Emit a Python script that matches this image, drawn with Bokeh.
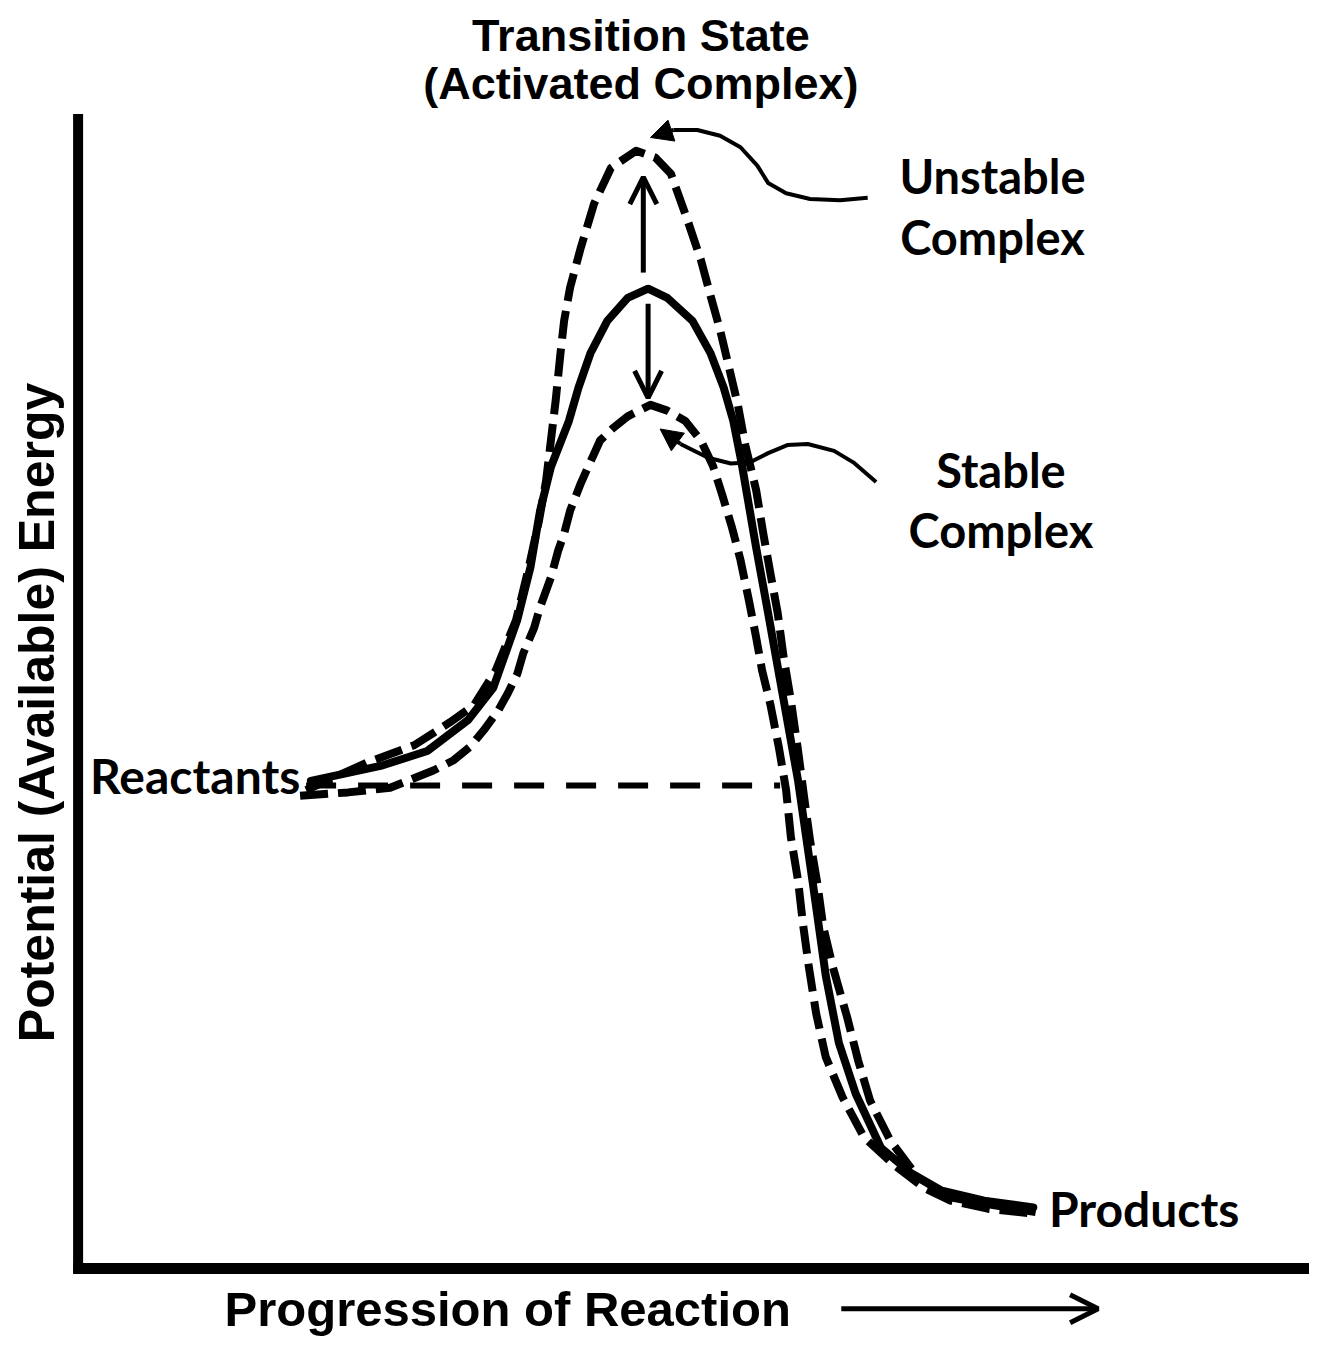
import math
from bokeh.plotting import figure
from bokeh.models import Range1d, Arrow, OpenHead, NormalHead
from bokeh.core.properties import value
from bokeh.embed import file_html
from bokeh.resources import INLINE

# ---------------- data (reaction progress 0..100, potential energy 0..100) ----------------
solid_x = [19.2, 25.0, 28.9, 32.3, 34.4, 36.4, 37.5, 38.3, 39.2, 40.7, 41.5, 42.5, 43.9, 45.6, 47.3,
           48.9, 51.0, 52.5, 53.6, 54.4, 55.1, 56.3, 57.3, 58.6, 59.8, 61.0, 62.1, 63.2, 64.6, 66.7,
           69.2, 71.7, 75.3, 79.4]
solid_y = [42.4, 43.7, 45.0, 47.7, 50.5, 56.4, 61.0, 65.9, 69.7, 73.7, 76.6, 79.6, 82.4, 84.4, 85.2,
           84.4, 82.4, 79.6, 76.6, 73.7, 70.0, 62.7, 57.0, 49.4, 42.4, 33.7, 25.5, 19.6, 15.2, 10.5,
           8.3, 6.8, 5.9, 5.3]

unstable_x = [18.8, 23.9, 27.8, 30.8, 32.8, 34.6, 36.3, 37.3, 38.2, 38.8, 39.2, 39.6, 40.0, 40.3,
              40.8, 41.7, 42.8, 44.2, 46.3, 47.9, 49.2, 50.6, 51.7, 52.5, 53.3, 54.1, 54.8, 55.4,
              56.3, 56.9, 57.5, 58.1, 58.6, 59.2, 59.8, 60.3, 60.8, 61.4, 61.9, 62.7, 63.9, 64.8,
              65.8, 67.5, 69.8, 72.5, 75.0, 79.6]
unstable_y = [41.6, 44.0, 45.5, 47.5, 49.0, 52.0, 56.4, 60.7, 65.0, 68.5, 72.0, 75.5, 79.6, 82.4,
              85.3, 88.8, 92.6, 95.7, 97.2, 96.6, 95.2, 91.1, 87.7, 84.6, 81.6, 78.1, 75.0, 71.6,
              67.7, 63.9, 60.4, 57.0, 53.1, 49.4, 45.0, 41.0, 37.2, 33.5, 29.7, 26.2, 21.8, 18.1,
              14.6, 11.1, 7.9, 6.2, 5.7, 4.9]

stable_x = [18.3, 22.3, 25.8, 29.4, 31.1, 32.5, 33.6, 34.8, 35.6, 36.4, 36.9, 37.8, 38.3, 39.2,
            39.8, 40.3, 40.8, 41.7, 42.3, 43.3, 44.4, 45.6, 47.5, 48.9, 50.4, 51.7, 52.7, 53.5,
            54.3, 55.0, 55.7, 56.3, 56.8, 57.5, 58.2, 58.8, 59.2, 59.8, 60.2, 60.7, 61.3, 62.1,
            63.5, 65.3, 67.8, 70.3, 72.5, 75.6, 79.2]
stable_y = [41.1, 41.4, 41.8, 43.3, 44.2, 45.4, 46.8, 48.5, 50.0, 51.7, 53.5, 55.7, 57.5, 60.1,
            62.4, 63.9, 65.9, 68.3, 69.7, 72.0, 73.1, 74.1, 75.1, 74.6, 73.7, 72.0, 69.8, 67.2,
            64.4, 61.6, 58.1, 54.9, 52.0, 49.0, 45.3, 41.6, 37.5, 33.7, 30.0, 26.2, 22.2, 18.4,
            14.9, 11.4, 9.0, 7.0, 5.9, 5.2, 4.8]

reactant_level_x = [18.8, 58.3]
reactant_level_y = [42.0, 42.0]

# double arrow at the peak (up: to unstable complex, down: to stable complex)
up_arrow = dict(x0=46.9, y0=86.6, x1=46.9, y1=94.9)
down_arrow = dict(x0=47.3, y0=83.9, x1=47.3, y1=75.7)

# curved pointers from labels
unstable_ptr_x = [65.6, 63.3, 60.8, 58.8, 57.3, 56.4, 55.0, 53.3, 51.4, 49.4]
unstable_ptr_y = [93.1, 92.9, 93.0, 93.5, 94.4, 95.9, 97.5, 98.5, 99.0, 99.0]
unstable_ptr_tip = (47.5, 98.35)
stable_ptr_x = [66.3, 64.4, 62.8, 60.6, 58.9, 57.3, 55.8, 54.2, 52.3, 50.0]
stable_ptr_y = [68.4, 70.1, 71.1, 71.7, 71.6, 70.9, 70.1, 70.0, 70.5, 71.7]
stable_ptr_tip = (48.3, 73.0)

# axes frame
yaxis_x = [-0.2, -0.2]
yaxis_y = [100.4, -0.45]
xaxis_x = [-0.6, 102.9]
xaxis_y = [0.0, 0.0]
progress_arrow = dict(x0=63.4, y0=-3.5, x1=84.8, y1=-3.5)

# labels
title_lines = ["Transition State", "(Activated Complex)"]
title_x = [46.7, 46.7]
title_y = [107.2, 103.0]
side_labels = ["Unstable", "Complex", "Stable", "Complex"]
side_x = [76.0, 76.0, 76.7, 76.7]
side_y = [95.0, 89.7, 69.4, 64.2]
xlabel = "Progression of Reaction"
xlabel_pos = (35.6, -3.5)
ylabel = "Potential (Available) Energy"
ylabel_pos = (-3.6, 48.35)
reactants_pos = (0.8, 42.9)
products_pos = (80.7, 5.2)

# ---------------- figure ----------------
W, H = 1309, 1336
p = figure(width=W, height=H, x_range=Range1d(-6.667, 102.417), y_range=Range1d(-5.913, 110.26),
           output_backend="svg", toolbar_location=None, min_border=0,
           x_axis_location=None, y_axis_location=None)
p.grid.visible = False
p.outline_line_color = None
p.background_fill_color = "white"
p.border_fill_color = "white"

BLACK = "black"

# axes
p.line(yaxis_x, yaxis_y, line_width=10, line_color=BLACK, line_cap="butt")
p.line(xaxis_x, xaxis_y, line_width=11, line_color=BLACK, line_cap="butt")

# curves
p.line(reactant_level_x, reactant_level_y, line_width=6, line_color=BLACK, line_dash="30 22")
p.line(unstable_x, unstable_y, line_width=8, line_color=BLACK, line_dash="28 10", line_join="round")
p.line(stable_x, stable_y, line_width=8, line_color=BLACK, line_dash="28 10", line_join="round")
p.line(solid_x, solid_y, line_width=8, line_color=BLACK, line_join="round", line_cap="round")

# peak arrows
for a in (up_arrow, down_arrow):
    p.add_layout(Arrow(x_start=a["x0"], y_start=a["y0"], x_end=a["x1"], y_end=a["y1"],
                       line_width=5, line_color=BLACK,
                       end=OpenHead(size=27, line_width=5, line_color=BLACK)))

# pointers
p.line(unstable_ptr_x, unstable_ptr_y, line_width=4, line_color=BLACK, line_join="round")
p.add_layout(Arrow(x_start=unstable_ptr_x[-1], y_start=unstable_ptr_y[-1],
                   x_end=unstable_ptr_tip[0], y_end=unstable_ptr_tip[1], line_width=4,
                   line_color=BLACK,
                   end=NormalHead(size=22, fill_color=BLACK, line_color=BLACK, line_width=1)))
p.line(stable_ptr_x, stable_ptr_y, line_width=4, line_color=BLACK, line_join="round")
p.add_layout(Arrow(x_start=stable_ptr_x[-1], y_start=stable_ptr_y[-1],
                   x_end=stable_ptr_tip[0], y_end=stable_ptr_tip[1], line_width=4,
                   line_color=BLACK,
                   end=NormalHead(size=22, fill_color=BLACK, line_color=BLACK, line_width=1)))

# progression arrow
p.add_layout(Arrow(x_start=progress_arrow["x0"], y_start=progress_arrow["y0"],
                   x_end=progress_arrow["x1"], y_end=progress_arrow["y1"],
                   line_width=5, line_color=BLACK,
                   end=OpenHead(size=28, line_width=5, line_color=BLACK)))

# texts
ARIAL = value("Liberation Sans")
CAL = value("Lato")
p.text(x=title_x, y=title_y, text=title_lines, text_font=ARIAL, text_font_style="bold",
       text_font_size="45px", text_align="center", text_baseline="middle", text_color=BLACK)
p.text(x=[xlabel_pos[0]], y=[xlabel_pos[1]], text=[xlabel], text_font=ARIAL,
       text_font_style="bold", text_font_size="49px", text_align="center",
       text_baseline="middle", text_color=BLACK)
p.text(x=[ylabel_pos[0]], y=[ylabel_pos[1]], text=[ylabel], text_font=ARIAL,
       text_font_style="bold", text_font_size="50px", text_align="center",
       text_baseline="middle", angle=math.pi / 2, text_color=BLACK)
p.text(x=side_x, y=side_y, text=side_labels, text_font=CAL, text_font_style="bold",
       text_font_size="47px", text_align="center", text_baseline="middle", text_color=BLACK)
p.text(x=[reactants_pos[0]], y=[reactants_pos[1]], text=["Reactants"], text_font=CAL,
       text_font_style="bold", text_font_size="48px", text_align="left",
       text_baseline="middle", text_color=BLACK)
p.text(x=[products_pos[0]], y=[products_pos[1]], text=["Products"], text_font=CAL,
       text_font_style="bold", text_font_size="48px", text_align="left",
       text_baseline="middle", text_color=BLACK)

open("out.html", "w").write(file_html(p, INLINE))
